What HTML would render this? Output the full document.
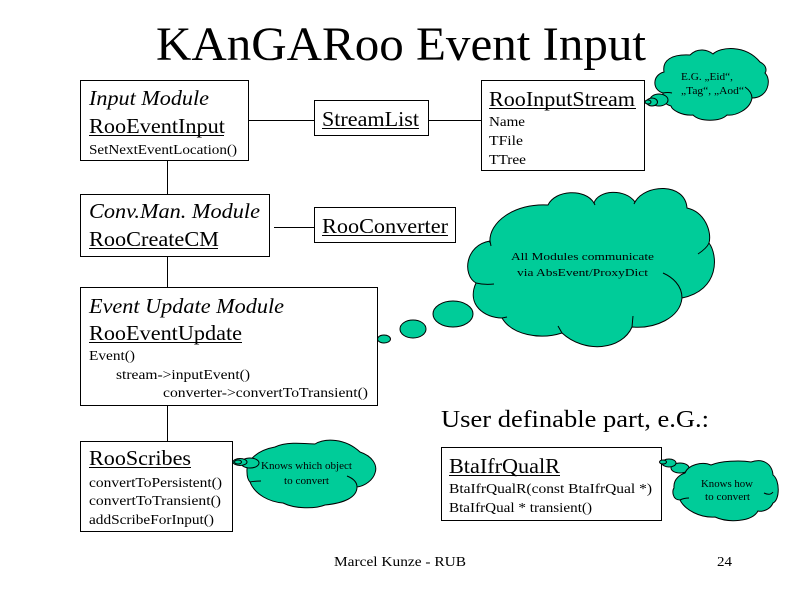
<!DOCTYPE html>
<html><head><meta charset="utf-8"><style>
html,body{margin:0;padding:0;background:#fff}
svg{display:block}
text{font-family:"Liberation Serif",serif;fill:#000}
.h{font-size:21px}.s{font-size:14px}.c{font-size:11px}
.b{fill:#fff;stroke:#000;stroke-width:1;shape-rendering:crispEdges}
.l{stroke:#000;stroke-width:1;shape-rendering:crispEdges}
.cl{fill:#00CC99;stroke:#000;stroke-width:1}
.st{fill:none;stroke:#000;stroke-width:1}
</style></head><body>
<svg xmlns="http://www.w3.org/2000/svg" width="800" height="600" viewBox="0 0 800 600">
<rect width="800" height="600" fill="#fff"/>
<text x="156" y="60" font-size="48" textLength="490" lengthAdjust="spacingAndGlyphs">KAnGARoo Event Input</text>

<line class="l" x1="247" y1="120.5" x2="315" y2="120.5"/>
<line class="l" x1="428" y1="120.5" x2="481" y2="120.5"/>
<line class="l" x1="167.5" y1="160" x2="167.5" y2="194"/>
<line class="l" x1="274" y1="227.5" x2="315" y2="227.5"/>
<line class="l" x1="167.5" y1="256" x2="167.5" y2="287"/>
<line class="l" x1="167.5" y1="405" x2="167.5" y2="441"/>

<rect class="b" x="80.5" y="80.5" width="168" height="80"/>
<text class="h" x="89" y="105" font-style="italic" textLength="120" lengthAdjust="spacingAndGlyphs">Input Module</text>
<text class="h" x="89" y="133" textLength="136" lengthAdjust="spacingAndGlyphs">RooEventInput</text>
<line class="l" x1="89" y1="135.5" x2="224" y2="135.5"/>
<text class="s" x="89" y="154" textLength="148" lengthAdjust="spacingAndGlyphs">SetNextEventLocation()</text>

<rect class="b" x="314.5" y="100.5" width="114" height="35"/>
<text class="h" x="322" y="126" textLength="97" lengthAdjust="spacingAndGlyphs">StreamList</text>
<line class="l" x1="322" y1="128.5" x2="419" y2="128.5"/>

<rect class="b" x="481.5" y="80.5" width="163" height="90"/>
<text class="h" x="489" y="106" textLength="146" lengthAdjust="spacingAndGlyphs">RooInputStream</text>
<line class="l" x1="489" y1="108.5" x2="636" y2="108.5"/>
<text class="s" x="489" y="126" textLength="36" lengthAdjust="spacingAndGlyphs">Name</text>
<text class="s" x="489" y="145" textLength="34" lengthAdjust="spacingAndGlyphs">TFile</text>
<text class="s" x="489" y="164" textLength="37" lengthAdjust="spacingAndGlyphs">TTree</text>

<rect class="b" x="80.5" y="194.5" width="189" height="62"/>
<text class="h" x="89" y="218" font-style="italic" textLength="171" lengthAdjust="spacingAndGlyphs">Conv.Man. Module</text>
<text class="h" x="89" y="246" textLength="130" lengthAdjust="spacingAndGlyphs">RooCreateCM</text>
<line class="l" x1="89" y1="248.5" x2="218" y2="248.5"/>

<rect class="b" x="314.5" y="207.5" width="141" height="35"/>
<text class="h" x="322" y="233" textLength="126" lengthAdjust="spacingAndGlyphs">RooConverter</text>
<line class="l" x1="322" y1="235.5" x2="448" y2="235.5"/>

<rect class="b" x="80.5" y="287.5" width="297" height="118"/>
<text class="h" x="89" y="313" font-style="italic" textLength="195" lengthAdjust="spacingAndGlyphs">Event Update Module</text>
<text class="h" x="89" y="340" textLength="153" lengthAdjust="spacingAndGlyphs">RooEventUpdate</text>
<line class="l" x1="89" y1="342.5" x2="242" y2="342.5"/>
<text class="s" x="89" y="360" textLength="46" lengthAdjust="spacingAndGlyphs">Event()</text>
<text class="s" x="116" y="379" textLength="134" lengthAdjust="spacingAndGlyphs">stream-&gt;inputEvent()</text>
<text class="s" x="163" y="397" textLength="205" lengthAdjust="spacingAndGlyphs">converter-&gt;convertToTransient()</text>

<rect class="b" x="80.5" y="441.5" width="152" height="90"/>
<text class="h" x="89" y="465" textLength="102" lengthAdjust="spacingAndGlyphs">RooScribes</text>
<line class="l" x1="89" y1="467.5" x2="191" y2="467.5"/>
<text class="s" x="89" y="487" textLength="133" lengthAdjust="spacingAndGlyphs">convertToPersistent()</text>
<text class="s" x="89" y="505" textLength="132" lengthAdjust="spacingAndGlyphs">convertToTransient()</text>
<text class="s" x="89" y="524" textLength="125" lengthAdjust="spacingAndGlyphs">addScribeForInput()</text>

<text x="441" y="427" font-size="24" textLength="268" lengthAdjust="spacingAndGlyphs">User definable part, e.G.:</text>

<rect class="b" x="441.5" y="447.5" width="220" height="73"/>
<text class="h" x="449" y="473" textLength="111" lengthAdjust="spacingAndGlyphs">BtaIfrQualR</text>
<line class="l" x1="449" y1="475.5" x2="560" y2="475.5"/>
<text class="s" x="449" y="493" textLength="203" lengthAdjust="spacingAndGlyphs">BtaIfrQualR(const BtaIfrQual *)</text>
<text class="s" x="449" y="512" textLength="143" lengthAdjust="spacingAndGlyphs">BtaIfrQual * transient()</text>

<!-- big cloud -->
<ellipse class="cl" cx="384" cy="339" rx="6.5" ry="4"/>
<ellipse class="cl" cx="413" cy="329" rx="13" ry="9"/>
<ellipse class="cl" cx="453" cy="314" rx="20" ry="13"/>
<path class="cl" d="M490 243 C488 222 515 203 548 205 C555 190 585 188 594 203 C598 190 625 188 635 202 C645 184 685 182 687 208 C705 212 712 232 709 243 C718 255 720 290 682 298 C680 318 655 329 632 327 C622 350 585 354 562 333 C540 340 512 335 502 318 C485 318 466 305 476 283 C462 275 465 245 490 241 Z"/>
<path class="st" d="M490 241 L491 246 M709 243 Q707 248 698 254 M682 298 C682 285 672 277 663 273 M632 327 L633 316 M562 333 L558 326 M502 318 L507 317 M476 283 Q484 285 494 284 M594 203 L595 205 M635 202 L634 204"/>
<text class="c" x="511" y="260" font-size="12" textLength="143" lengthAdjust="spacingAndGlyphs">All Modules communicate</text>
<text class="c" x="517" y="276" font-size="12" textLength="131" lengthAdjust="spacingAndGlyphs">via AbsEvent/ProxyDict</text>

<!-- top cloud -->
<path class="cl" d="M664 72 C662 60 672 54 690 55 C698 47 708 50 713 54 C720 47 745 44 760 62 C768 66 766 72 765 73 C772 80 768 98 752 98 C750 110 735 116 727 115 C720 122 700 122 693 115 C682 116 672 110 671 106 C660 103 663 95 663 93 C652 90 652 75 664 72 Z"/>
<path class="st" d="M752 98 Q752 92 745 87 M663 93 Q668 92 672 93"/>
<ellipse class="cl" cx="659" cy="100" rx="9" ry="6"/>
<ellipse class="cl" cx="652" cy="102" rx="5.5" ry="4"/>
<ellipse class="cl" cx="648" cy="102" rx="3" ry="2"/>
<text class="c" x="681" y="80" font-size="10.5" textLength="52" lengthAdjust="spacingAndGlyphs">E.G. „Eid“,</text>
<text class="c" x="681" y="94" font-size="10.5" textLength="63" lengthAdjust="spacingAndGlyphs">„Tag“, „Aod“</text>

<!-- scribes cloud -->
<path class="cl" d="M247 472 C246 460 258 450 275 447 C285 442 300 443 315 444 C325 438 345 438 360 452 C372 456 378 465 375 473 C373 480 365 486 357 487 C357 497 345 503 325 505 C315 509 295 509 283 503 C270 502 255 495 250 482 C248 480 247 476 247 472 Z"/>
<path class="st" d="M357 487 Q357 480 347 476 M250 482 Q254 481 261 481"/>
<ellipse class="cl" cx="250" cy="463" rx="9" ry="5"/>
<ellipse class="cl" cx="240" cy="462" rx="7" ry="3.5"/>
<ellipse class="cl" cx="238" cy="462" rx="3.5" ry="2"/>
<text class="c" x="261" y="469" font-size="11" textLength="91" lengthAdjust="spacingAndGlyphs">Knows which object</text>
<text class="c" x="284" y="484" font-size="11" textLength="45" lengthAdjust="spacingAndGlyphs">to convert</text>

<!-- how cloud -->
<ellipse class="cl" cx="680" cy="468" rx="9" ry="5"/>
<ellipse class="cl" cx="669" cy="463" rx="7" ry="4"/>
<ellipse class="cl" cx="663" cy="462" rx="3.5" ry="2"/>
<path class="cl" d="M674 488 C673 478 682 474 685 473 C688 465 702 461 711 465 C720 461 740 460 751 462 C762 458 772 463 773 475 C780 480 780 500 773 503 C770 510 762 512 758 511 C752 522 728 523 715 517 C700 518 685 510 680 500 C672 500 672 490 674 488 Z"/>
<path class="st" d="M680 500 Q684 498 689 498 M773 492 Q770 496 764 493"/>
<text class="c" x="701" y="487" font-size="11" textLength="52" lengthAdjust="spacingAndGlyphs">Knows how</text>
<text class="c" x="705" y="500" font-size="11" textLength="45" lengthAdjust="spacingAndGlyphs">to convert</text>

<text class="s" x="334" y="566" textLength="132" lengthAdjust="spacingAndGlyphs">Marcel Kunze - RUB</text>
<text class="s" x="717" y="566" textLength="15" lengthAdjust="spacingAndGlyphs">24</text>
</svg>
</body></html>
